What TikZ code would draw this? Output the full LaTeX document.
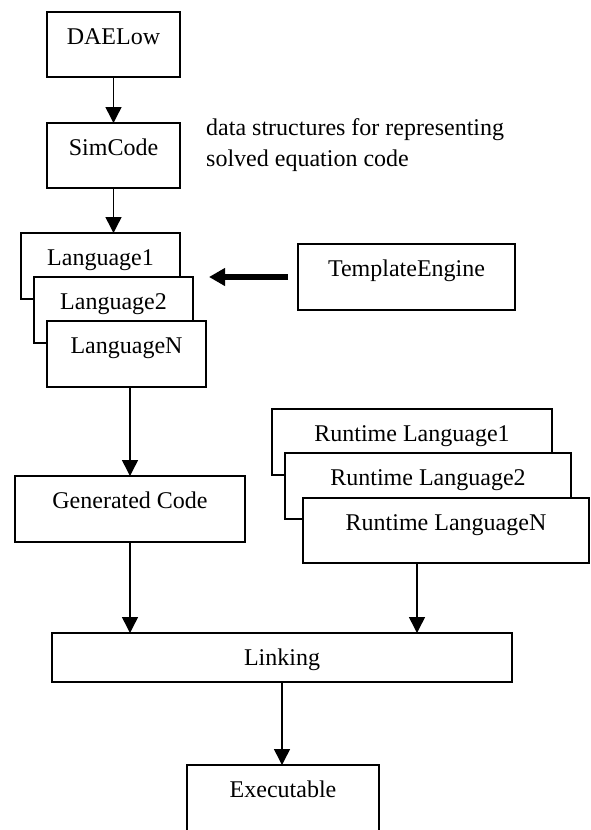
\documentclass[tikz,border=0pt]{standalone}
\usepackage{fontspec}
\setmainfont{Liberation Serif}
\usetikzlibrary{arrows.meta}
\begin{document}
\begin{tikzpicture}[x=1pt,y=-1pt,
  box/.style={draw=black, line width=1.5pt, fill=white, inner sep=0pt, outer sep=0pt,
    anchor=north west, text height=32pt, font=\fontsize{24}{29}\selectfont},
  flow/.style={draw=black, line width=1.5pt, -{Triangle[length=16pt,width=16pt]}},
  push/.style={draw=black, line width=5.5pt, -{Triangle[length=16pt,width=17pt]}},
  note/.style={anchor=base west, inner sep=0pt, font=\fontsize{24}{29}\selectfont}]
\useasboundingbox (0,0) rectangle (590,830);

\node[box, minimum width=133pt, text depth=33pt] (dae) at (47,12) {DAELow};
\node[box, minimum width=133pt, text depth=33pt] (sim) at (47,123) {SimCode};
\node[note] (noteA) at (206,135) {data structures for representing};
\node[note] (noteB) at (206,166) {solved equation code};

\node[box, minimum width=159pt, text depth=34pt] (l1) at (21,233) {Language1};
\node[box, minimum width=159pt, text depth=34pt] (l2) at (34,277) {Language2};
\node[box, minimum width=159pt, text depth=34pt] (ln) at (47,321) {LanguageN};

\node[box, minimum width=217pt, text depth=34pt] (te) at (298,244) {TemplateEngine};

\node[box, minimum width=280pt, text depth=34pt] (r1) at (272,409) {Runtime Language1};
\node[box, minimum width=286pt, text depth=34pt] (r2) at (285,453) {Runtime Language2};
\node[box, minimum width=286pt, text depth=33pt] (rn) at (303,498) {Runtime LanguageN};

\node[box, minimum width=230pt, text depth=34pt] (gc) at (15,476) {Generated Code};
\node[box, minimum width=460pt, text depth=17pt] (lk) at (52,633) {Linking};
\node[box, minimum width=192pt, text depth=43pt] (ex) at (187,765) {Executable};

\draw[flow] (dae.south) -- (sim.north);
\draw[flow] (sim.south) -- (sim.south |- l1.north);
\draw[push] ([xshift=-10pt]te.west) -- ([xshift=16pt]te.west -| l2.east);
\draw[flow] (ln.south -| gc.north) -- (gc.north);
\draw[flow] (gc.south) -- (gc.south |- lk.north);
\draw[flow] ([xshift=-29pt]rn.south) -- ([xshift=-29pt]rn.south |- lk.north);
\draw[flow] (lk.south) -- (lk.south |- ex.north);
\end{tikzpicture}
\end{document}
